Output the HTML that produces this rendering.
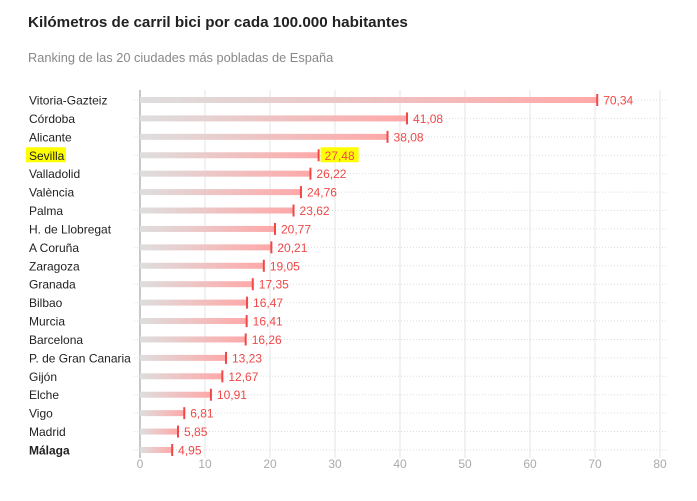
<!DOCTYPE html><html><head><meta charset="utf-8"><style>
body{margin:0;background:#fff;font-family:"Liberation Sans",sans-serif;}
</style></head><body>
<svg width="697" height="496" xmlns="http://www.w3.org/2000/svg" font-family="Liberation Sans, sans-serif">
<defs><linearGradient id="g" x1="0" x2="1"><stop offset="0" stop-color="#dedede"/><stop offset="1" stop-color="#ffa8a8"/></linearGradient></defs>
<rect width="697" height="496" fill="#fff"/>
<text x="28" y="27" font-size="15.2" font-weight="bold" fill="#222">Kilómetros de carril bici por cada 100.000 habitantes</text>
<text x="28" y="62" font-size="12.8" fill="#888">Ranking de las 20 ciudades más pobladas de España</text>
<g id="rows"></g>
</svg>
<script>
const d=[["Vitoria-Gazteiz",70.34],["Córdoba",41.08],["Alicante",38.08],["Sevilla",27.48],["Valladolid",26.22],["València",24.76],["Palma",23.62],["H. de Llobregat",20.77],["A Coruña",20.21],["Zaragoza",19.05],["Granada",17.35],["Bilbao",16.47],["Murcia",16.41],["Barcelona",16.26],["P. de Gran Canaria",13.23],["Gijón",12.67],["Elche",10.91],["Vigo",6.81],["Madrid",5.85],["Málaga",4.95]];
const X=v=>140+v*6.5;let s="";
for(let i=0;i<=8;i++){const x=X(i*10);s+=`<line x1="${x}" y1="90" x2="${x}" y2="458" stroke="${i?'#e6e6e6':'#c8c8c8'}" stroke-width="${i?1:2}"/><text x="${x}" y="468" font-size="12" fill="#aaa" text-anchor="middle">${i*10}</text>`;}
d.forEach((r,i)=>{const y=100+i*18.42;const x=X(r[1]);
s+=`<line x1="134" y1="${y}" x2="668" y2="${y}" stroke="#ddd" stroke-dasharray="1,2"/>`;
if(r[0]=="Sevilla"){s+=`<rect x="26" y="${y-8}" width="40" height="15" fill="#ffff00"/><rect x="${x+2}" y="${y-8}" width="38" height="15" fill="#ffff00"/>`;}
s+=`<rect x="140" y="${y-3}" width="${x-140}" height="6" fill="url(#g)"/><rect x="${x-1}" y="${y-6}" width="2" height="12" fill="#f04848"/>`;
s+=`<text x="29" y="${y+4.5}" font-size="12" fill="#222" ${i==19?'font-weight="bold"':''}>${r[0]}</text>`;
s+=`<text x="${x+6}" y="${y+4.5}" font-size="12" fill="#f04848">${r[1].toFixed(2).replace('.',',')}</text>`;});
document.getElementById('rows').innerHTML=s;
</script>
</body></html>
